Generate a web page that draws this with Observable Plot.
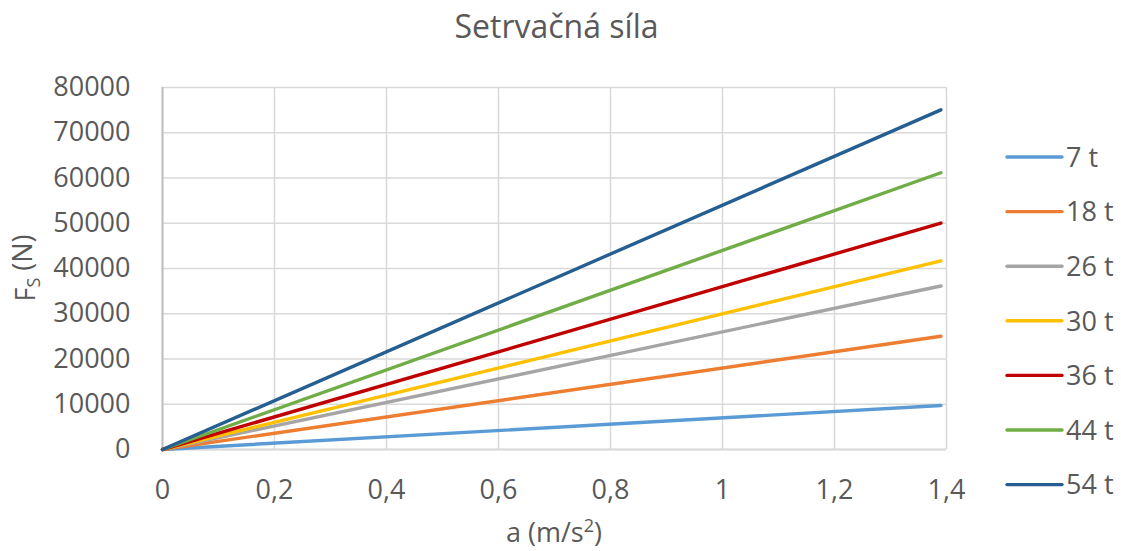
<!DOCTYPE html>
<html>
<head>
<meta charset="utf-8">
<script src="https://cdn.jsdelivr.net/npm/d3@7"></script>
<script src="https://cdn.jsdelivr.net/npm/@observablehq/plot@0.6"></script>
<style>
  html, body { margin: 0; padding: 0; background: #fff; }
  #chart { position: relative; width: 1121px; height: 551px; font-family: "Open Sans", sans-serif; color: #595959; }
  #title { position: absolute; left: 0; width: 1113px; top: 4px; text-align: center; font-size: 32px; }
  #xlabel { position: absolute; left: 454px; width: 200px; top: 517px; height: 30px; line-height: 30px; text-align: center; font-size: 27px; z-index: 2; }
  #xlabel .sup { font-size: 18px; position: relative; top: -0.55em; }
</style>
</head>
<body>
<div id="chart">
  <div id="title">Setrvačná síla</div>
  <div id="xlabel">a (m/s<span class="sup">2</span>)</div>
</div>
<script>
// Inertial force F = m·a for several vehicle masses
const series = ["7 t", "18 t", "26 t", "30 t", "36 t", "44 t", "54 t"];
const colors = ["#5B9BD5", "#ED7D31", "#A5A5A5", "#FFC000", "#C00000", "#70AD47", "#255E91"];
const accel = [0, 1.39];            // a (m/s²)
const force7 = [0, 9730];           // F (N)
const force18 = [0, 25020];
const force26 = [0, 36140];
const force30 = [0, 41700];
const force36 = [0, 50040];
const force44 = [0, 61160];
const force54 = [0, 75060];
const forces = [force7, force18, force26, force30, force36, force44, force54];
const xTicks = [0, 0.2, 0.4, 0.6, 0.8, 1, 1.2, 1.4];
const yTicks = [0, 10000, 20000, 30000, 40000, 50000, 60000, 70000, 80000];

const rows = series.flatMap((s, i) => accel.map((a, j) => ({series: s, a, f: forces[i][j]})));

const fmtX = d => String(d).replace(".", ",");
const fmtY = d => String(d);
const textColor = "#595959";

const plot = Plot.plot({
  width: 1121,
  height: 551,
  marginLeft: 162,
  marginRight: 175,
  marginTop: 87,
  marginBottom: 102,
  style: {fontFamily: "Open Sans, sans-serif", fontSize: "27px", color: textColor, background: "transparent"},
  x: {domain: [0, 1.4], ticks: xTicks, tickFormat: fmtX, label: null},
  y: {domain: [0, 80000], ticks: yTicks, tickFormat: fmtY, label: null},
  color: {domain: series, range: colors},
  marks: [
    Plot.gridX(xTicks, {stroke: "#d9d9d9", strokeOpacity: 1, strokeWidth: 1.5}),
    Plot.gridY(yTicks, {stroke: "#d9d9d9", strokeOpacity: 1, strokeWidth: 1.5}),
    Plot.ruleX([0], {stroke: "#bfbfbf", strokeWidth: 2}),
    Plot.ruleY([0], {stroke: "#d9d9d9", strokeWidth: 2}),
    Plot.axisX(xTicks, {tickSize: 0, tickPadding: 30, tickFormat: fmtX, fill: textColor, fontSize: 27}),
    Plot.axisY(yTicks, {tickSize: 0, tickPadding: 32, tickFormat: fmtY, fill: textColor, fontSize: 27}),
    Plot.line(rows, {x: "a", y: "f", z: "series", stroke: "series", strokeWidth: 3.4, strokeLinecap: "round"})
  ]
});

plot.style.position = "absolute";
plot.style.left = "0";
plot.style.top = "0";
document.getElementById("chart").appendChild(plot);

const svg = d3.select(plot);

// Vertical axis title with subscript
const yt = svg.append("text")
  .attr("transform", "translate(35,268) rotate(-90)")
  .attr("text-anchor", "middle")
  .attr("fill", textColor).style("font-size", "27px");
yt.append("tspan").text("F");
yt.append("tspan").attr("dy", "0.3em").style("font-size", "18px").text("S");
yt.append("tspan").attr("dy", "-0.3em").text(" (N)");

// Legend
const legend = svg.append("g").attr("transform", "translate(1007,157)");
series.forEach((s, i) => {
  const g = legend.append("g").attr("transform", `translate(0,${i * 54.6})`);
  g.append("line").attr("x1", 0).attr("x2", 55).attr("y1", 0).attr("y2", 0)
    .attr("stroke", colors[i]).attr("stroke-width", 3.4).attr("stroke-linecap", "round");
  g.append("text").attr("x", 59).attr("y", 0).attr("dy", "0.36em")
    .attr("text-anchor", "start")
    .attr("fill", textColor).style("font-size", "27px").text(s);
});
</script>
</body>
</html>
